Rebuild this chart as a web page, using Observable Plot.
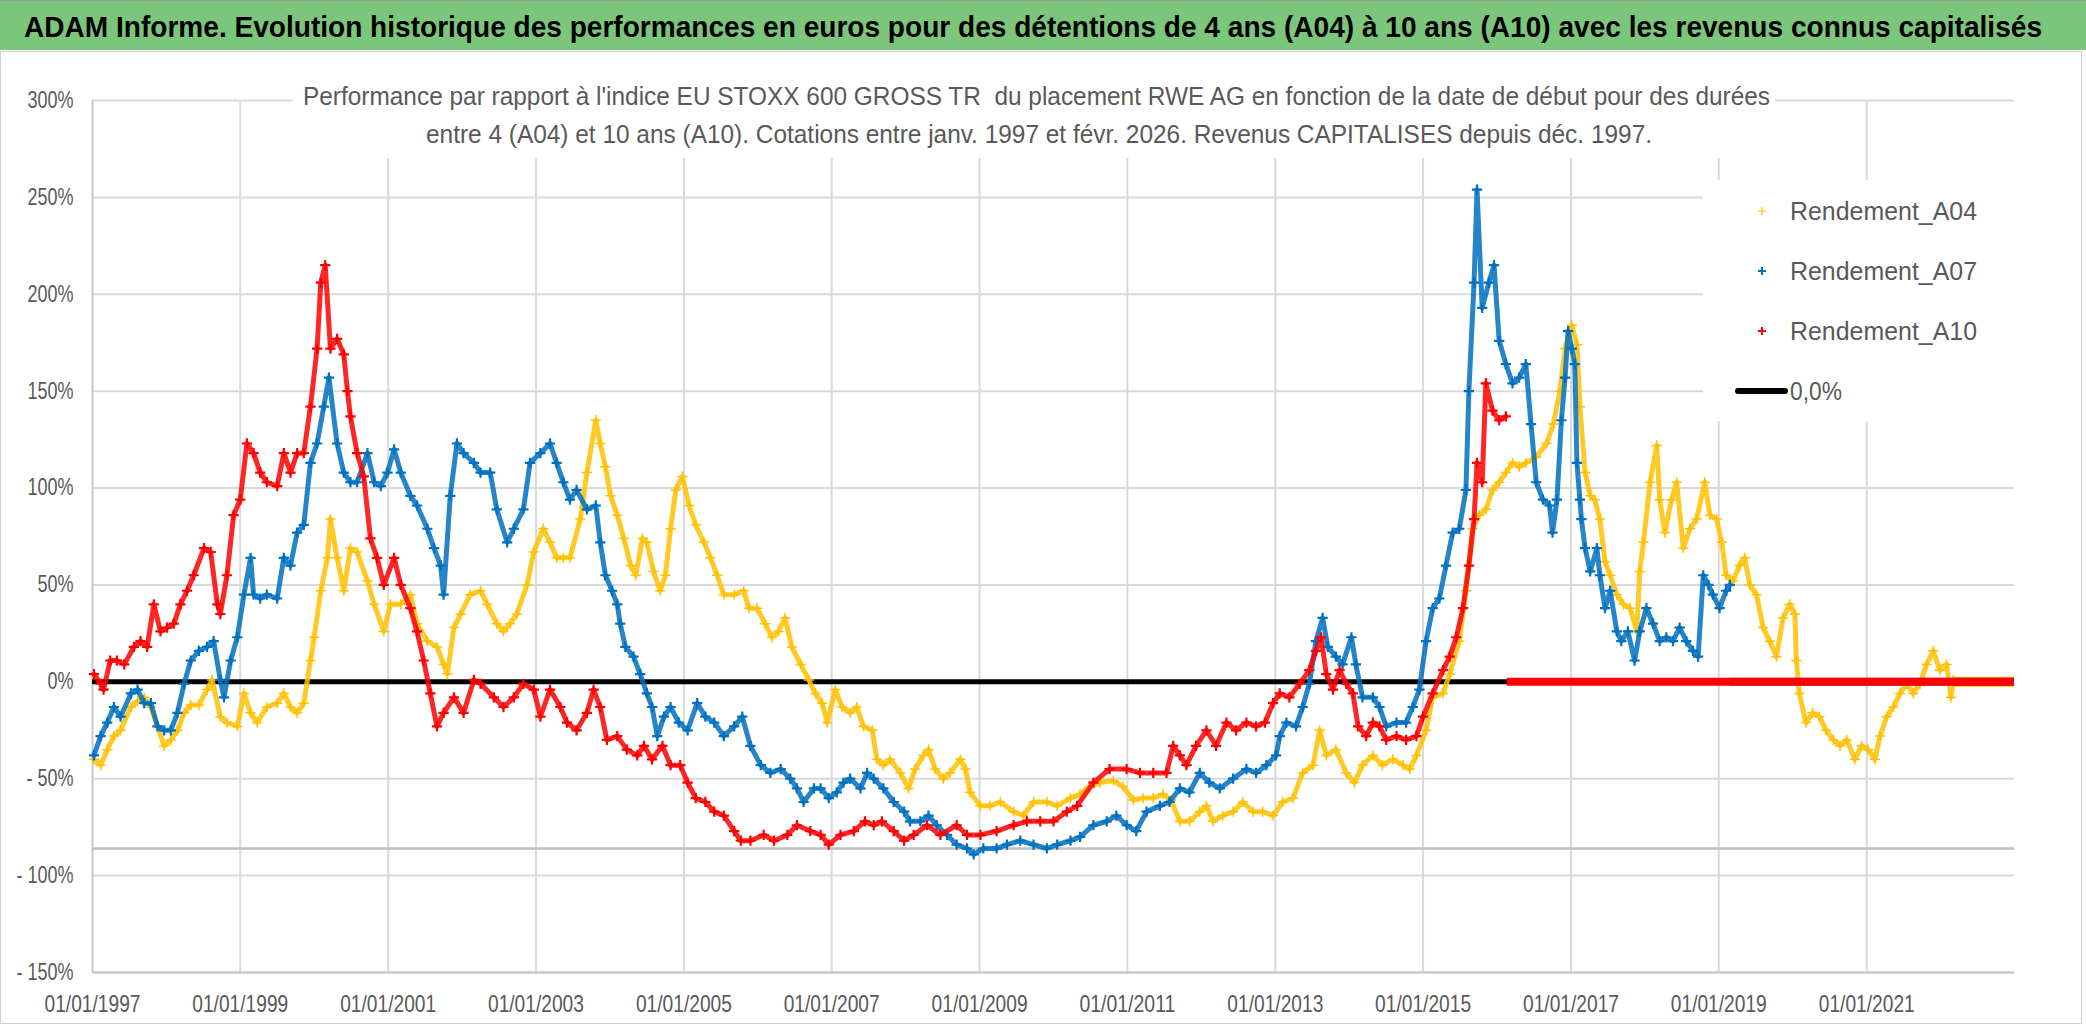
<!DOCTYPE html>
<html><head><meta charset="utf-8">
<script src="https://cdn.jsdelivr.net/npm/d3@7"></script>
<script src="https://cdn.jsdelivr.net/npm/@observablehq/plot@0.6"></script>
<style>
html,body{margin:0;padding:0;background:#fff;}
body{width:2086px;height:1031px;overflow:hidden;position:relative;}
#titlebar{position:absolute;left:0;top:0;width:2086px;height:50px;background:#7cc67c;border-top:1px solid #9a9a9a;box-sizing:border-box;}
#frame{position:absolute;left:0;top:51px;width:2082px;height:973px;border:1.5px solid #d0d0d0;box-sizing:border-box;}
#chart{position:absolute;left:0;top:50px;}
.box{position:absolute;background:#fff;z-index:2;}
</style>
</head><body>
<div id="titlebar"></div>
<div id="frame"></div>
<div id="chart"></div>
<div class="box" style="left:293px;top:62px;width:1482px;height:96px"></div>
<div class="box" style="left:1703px;top:180px;width:312px;height:241px"></div>
<script>
const FONT = '"Liberation Sans Narrow","Liberation Sans",Arial,sans-serif';

// ---- data: [decimal year of start date, performance %] ----
const a04 = [[1997.02,-40],[1997.11,-43],[1997.20,-35],[1997.29,-28],[1997.38,-25],[1997.52,-13],[1997.61,-10],[1997.70,-8],[1997.79,-13],[1997.88,-23],[1997.97,-33],[1998.06,-30],[1998.15,-25],[1998.24,-16],[1998.33,-12],[1998.44,-12],[1998.55,-4],[1998.62,1],[1998.73,-18],[1998.82,-21],[1998.96,-23],[1999.05,-6],[1999.14,-16],[1999.23,-21],[1999.36,-13],[1999.50,-11],[1999.59,-6],[1999.68,-13],[1999.77,-16],[1999.86,-11],[1999.95,11],[2000.00,23],[2000.09,47],[2000.18,64],[2000.22,84],[2000.31,64],[2000.40,47],[2000.49,69],[2000.58,67],[2000.72,52],[2000.81,40],[2000.94,26],[2001.03,40],[2001.17,40],[2001.30,45],[2001.39,30],[2001.53,21],[2001.66,18],[2001.75,9],[2001.80,4],[2001.89,28],[2001.98,35],[2002.11,45],[2002.25,47],[2002.34,40],[2002.47,30],[2002.56,26],[2002.65,30],[2002.74,35],[2002.88,50],[2002.97,67],[2003.10,79],[2003.19,72],[2003.28,64],[2003.37,64],[2003.46,64],[2003.60,84],[2003.69,108],[2003.81,135],[2003.87,123],[2003.94,111],[2004.01,96],[2004.10,86],[2004.19,74],[2004.28,60],[2004.35,55],[2004.44,74],[2004.50,72],[2004.59,57],[2004.68,47],[2004.75,55],[2004.82,79],[2004.89,99],[2004.98,106],[2005.07,91],[2005.16,81],[2005.27,72],[2005.36,64],[2005.45,55],[2005.54,45],[2005.68,45],[2005.81,47],[2005.88,38],[2005.99,38],[2006.10,30],[2006.19,23],[2006.28,26],[2006.37,33],[2006.46,18],[2006.58,9],[2006.69,1],[2006.78,-6],[2006.87,-11],[2006.94,-21],[2007.05,-4],[2007.14,-13],[2007.25,-16],[2007.34,-13],[2007.43,-23],[2007.55,-25],[2007.61,-40],[2007.70,-43],[2007.79,-40],[2007.93,-47],[2008.04,-55],[2008.13,-45],[2008.24,-38],[2008.31,-35],[2008.40,-45],[2008.51,-50],[2008.60,-47],[2008.74,-40],[2008.81,-45],[2008.87,-57],[2009.01,-64],[2009.14,-64],[2009.28,-62],[2009.46,-67],[2009.59,-69],[2009.73,-62],[2009.91,-62],[2010.05,-64],[2010.23,-60],[2010.36,-58],[2010.49,-54],[2010.63,-52],[2010.81,-51],[2010.94,-54],[2011.08,-61],[2011.21,-60],[2011.35,-60],[2011.48,-58],[2011.59,-61],[2011.71,-72],[2011.84,-72],[2011.98,-67],[2012.07,-64],[2012.16,-72],[2012.29,-69],[2012.43,-67],[2012.56,-62],[2012.70,-67],[2012.83,-67],[2012.97,-69],[2013.10,-62],[2013.24,-60],[2013.37,-47],[2013.51,-43],[2013.60,-25],[2013.69,-38],[2013.82,-35],[2013.96,-47],[2014.07,-52],[2014.18,-43],[2014.32,-38],[2014.45,-43],[2014.59,-40],[2014.73,-43],[2014.82,-45],[2014.91,-38],[2015.04,-25],[2015.13,-8],[2015.27,-6],[2015.36,4],[2015.49,21],[2015.58,47],[2015.67,79],[2015.76,86],[2015.85,89],[2015.94,99],[2016.03,103],[2016.12,108],[2016.21,113],[2016.30,111],[2016.39,113],[2016.53,116],[2016.67,123],[2016.76,133],[2016.85,150],[2016.92,172],[2017.01,184],[2017.08,174],[2017.12,142],[2017.19,108],[2017.26,96],[2017.32,94],[2017.39,84],[2017.46,62],[2017.53,55],[2017.62,45],[2017.71,40],[2017.80,38],[2017.89,26],[2017.93,57],[2017.98,72],[2018.07,103],[2018.16,122],[2018.20,94],[2018.27,77],[2018.36,94],[2018.43,103],[2018.52,69],[2018.61,79],[2018.70,84],[2018.81,103],[2018.88,86],[2018.97,84],[2019.04,72],[2019.10,55],[2019.19,52],[2019.28,60],[2019.35,64],[2019.42,50],[2019.51,45],[2019.60,28],[2019.69,21],[2019.78,13],[2019.87,33],[2019.96,40],[2020.03,35],[2020.05,11],[2020.09,-6],[2020.18,-21],[2020.27,-16],[2020.36,-18],[2020.45,-25],[2020.55,-30],[2020.64,-33],[2020.73,-30],[2020.84,-40],[2020.93,-33],[2021.02,-35],[2021.11,-40],[2021.18,-28],[2021.27,-18],[2021.36,-13],[2021.45,-6],[2021.54,-1],[2021.63,-6],[2021.72,-1],[2021.81,9],[2021.90,16],[2021.99,6],[2022.08,9],[2022.14,-8],[2022.17,1]];

const a07 = [[1997.02,-38],[1997.11,-28],[1997.20,-21],[1997.29,-13],[1997.38,-18],[1997.52,-6],[1997.61,-4],[1997.70,-11],[1997.79,-11],[1997.88,-23],[1997.97,-25],[1998.06,-25],[1998.15,-16],[1998.24,-1],[1998.33,11],[1998.44,16],[1998.55,18],[1998.64,21],[1998.73,1],[1998.78,-8],[1998.87,11],[1998.96,23],[1999.05,45],[1999.14,64],[1999.18,45],[1999.27,43],[1999.36,45],[1999.50,43],[1999.59,64],[1999.68,60],[1999.77,77],[1999.86,81],[1999.95,113],[2000.04,123],[2000.13,142],[2000.20,157],[2000.31,123],[2000.40,108],[2000.49,103],[2000.58,103],[2000.72,118],[2000.81,103],[2000.90,101],[2000.99,108],[2001.08,120],[2001.17,108],[2001.30,96],[2001.39,91],[2001.53,79],[2001.62,69],[2001.71,60],[2001.75,45],[2001.84,96],[2001.93,123],[2002.02,118],[2002.16,113],[2002.25,108],[2002.38,108],[2002.47,89],[2002.61,72],[2002.70,79],[2002.83,89],[2002.92,113],[2003.06,118],[2003.19,123],[2003.28,113],[2003.37,103],[2003.46,94],[2003.55,99],[2003.69,89],[2003.81,91],[2003.87,72],[2003.94,55],[2004.03,47],[2004.10,40],[2004.14,30],[2004.21,18],[2004.32,13],[2004.41,4],[2004.50,-6],[2004.57,-13],[2004.64,-28],[2004.73,-18],[2004.82,-13],[2004.93,-21],[2005.05,-25],[2005.18,-11],[2005.29,-18],[2005.41,-21],[2005.54,-28],[2005.68,-23],[2005.79,-18],[2005.90,-33],[2006.04,-43],[2006.17,-47],[2006.31,-45],[2006.44,-50],[2006.53,-55],[2006.62,-62],[2006.76,-55],[2006.85,-55],[2006.96,-60],[2007.07,-57],[2007.16,-52],[2007.25,-50],[2007.39,-55],[2007.48,-47],[2007.57,-50],[2007.70,-55],[2007.84,-62],[2007.98,-67],[2008.06,-72],[2008.20,-72],[2008.31,-69],[2008.42,-74],[2008.56,-79],[2008.69,-84],[2008.83,-86],[2008.92,-89],[2009.05,-86],[2009.23,-86],[2009.37,-84],[2009.55,-82],[2009.73,-84],[2009.91,-86],[2010.05,-84],[2010.23,-82],[2010.36,-80],[2010.54,-74],[2010.72,-72],[2010.85,-69],[2010.99,-74],[2011.12,-77],[2011.26,-67],[2011.44,-64],[2011.57,-62],[2011.71,-55],[2011.84,-57],[2011.98,-47],[2012.11,-52],[2012.25,-55],[2012.43,-50],[2012.61,-45],[2012.74,-47],[2012.88,-43],[2013.01,-38],[2013.06,-28],[2013.15,-21],[2013.28,-23],[2013.37,-13],[2013.46,-1],[2013.55,21],[2013.64,33],[2013.71,18],[2013.82,13],[2013.91,9],[2014.03,23],[2014.09,9],[2014.18,-8],[2014.32,-8],[2014.41,-13],[2014.50,-23],[2014.64,-21],[2014.77,-21],[2014.86,-13],[2014.95,-4],[2015.04,21],[2015.13,38],[2015.22,43],[2015.31,60],[2015.40,77],[2015.49,79],[2015.58,99],[2015.62,150],[2015.69,206],[2015.73,254],[2015.80,193],[2015.89,206],[2015.96,215],[2016.03,176],[2016.12,164],[2016.21,154],[2016.30,157],[2016.39,164],[2016.46,133],[2016.53,103],[2016.62,94],[2016.71,91],[2016.75,77],[2016.81,94],[2016.87,135],[2016.92,157],[2016.96,181],[2017.01,172],[2017.05,164],[2017.08,113],[2017.12,94],[2017.14,84],[2017.19,69],[2017.26,57],[2017.35,69],[2017.39,55],[2017.46,38],[2017.53,47],[2017.62,26],[2017.68,21],[2017.77,26],[2017.86,11],[2017.93,26],[2018.02,38],[2018.11,30],[2018.20,21],[2018.29,23],[2018.38,21],[2018.47,28],[2018.56,21],[2018.65,16],[2018.72,13],[2018.79,55],[2018.86,50],[2018.92,45],[2019.01,38],[2019.10,47],[2019.15,50]];

const a10 = [[1997.02,4],[1997.11,-1],[1997.15,-4],[1997.24,11],[1997.33,11],[1997.43,9],[1997.56,18],[1997.65,21],[1997.74,18],[1997.83,40],[1997.92,26],[1998.01,28],[1998.10,30],[1998.19,40],[1998.28,47],[1998.37,55],[1998.51,69],[1998.60,67],[1998.69,40],[1998.73,35],[1998.82,55],[1998.91,86],[1999.00,94],[1999.09,123],[1999.18,118],[1999.27,108],[1999.36,103],[1999.50,101],[1999.59,118],[1999.68,108],[1999.77,118],[1999.86,118],[1999.95,142],[2000.04,172],[2000.09,206],[2000.15,215],[2000.22,172],[2000.31,177],[2000.40,169],[2000.45,150],[2000.49,137],[2000.58,118],[2000.67,106],[2000.76,74],[2000.85,64],[2000.94,50],[2001.08,64],[2001.17,50],[2001.30,38],[2001.39,26],[2001.48,11],[2001.57,-6],[2001.66,-23],[2001.75,-16],[2001.89,-8],[2002.02,-16],[2002.16,1],[2002.25,-1],[2002.43,-8],[2002.56,-13],[2002.70,-8],[2002.83,-1],[2002.97,-4],[2003.06,-18],[2003.19,-4],[2003.33,-13],[2003.42,-21],[2003.55,-25],[2003.69,-16],[2003.78,-4],[2003.87,-13],[2003.96,-30],[2004.10,-28],[2004.23,-35],[2004.37,-38],[2004.46,-33],[2004.57,-40],[2004.71,-33],[2004.82,-43],[2004.95,-43],[2005.05,-52],[2005.16,-60],[2005.29,-62],[2005.41,-67],[2005.54,-69],[2005.68,-77],[2005.77,-82],[2005.90,-82],[2006.08,-79],[2006.22,-82],[2006.40,-79],[2006.53,-74],[2006.71,-77],[2006.85,-79],[2006.96,-84],[2007.12,-79],[2007.30,-77],[2007.45,-72],[2007.57,-74],[2007.68,-72],[2007.84,-77],[2007.98,-82],[2008.11,-79],[2008.29,-74],[2008.47,-79],[2008.69,-74],[2008.83,-79],[2009.01,-79],[2009.23,-77],[2009.46,-74],[2009.64,-72],[2009.82,-72],[2010.00,-72],[2010.18,-67],[2010.32,-64],[2010.54,-52],[2010.76,-45],[2010.99,-45],[2011.17,-47],[2011.35,-47],[2011.53,-47],[2011.62,-33],[2011.71,-38],[2011.80,-43],[2011.93,-33],[2012.07,-25],[2012.20,-33],[2012.34,-21],[2012.47,-25],[2012.61,-21],[2012.74,-23],[2012.86,-21],[2012.97,-11],[2013.06,-6],[2013.19,-8],[2013.33,-1],[2013.46,6],[2013.55,16],[2013.62,23],[2013.69,4],[2013.78,-4],[2013.87,6],[2013.96,-1],[2014.05,-6],[2014.12,-23],[2014.23,-28],[2014.32,-21],[2014.41,-23],[2014.50,-30],[2014.64,-28],[2014.77,-30],[2014.91,-28],[2015.00,-18],[2015.13,-6],[2015.27,6],[2015.36,13],[2015.45,23],[2015.54,38],[2015.62,60],[2015.69,84],[2015.73,113],[2015.80,103],[2015.85,154],[2015.94,140],[2016.03,135],[2016.12,137]];

// start dates with no completed period yet: plotted at 0 %
const zeroRuns = [
  {series: "Rendement_A04", from: 2022.17, to: 2023.0, width: 10},
  {series: "Rendement_A07", from: 2019.15, to: 2023.0, width: 8},
  {series: "Rendement_A10", from: 2016.14, to: 2023.0, width: 8}
];

const seriesNames = ["Rendement_A04", "Rendement_A07", "Rendement_A10"];
const seriesColors = ["#FFC000", "#0070C0", "#FF0000"];
const yTicks = [-150, -100, -50, 0, 50, 100, 150, 200, 250, 300];
const xTickYears = [1997, 1999, 2001, 2003, 2005, 2007, 2009, 2011, 2013, 2015, 2017, 2019, 2021];
const xDomainYears = [1997, 2023];
const axisCrossValue = -86;
const zeroLineLabel = "0,0%";

const titleText = "ADAM Informe. Evolution historique des performances en euros pour des détentions de 4 ans (A04) à 10 ans (A10) avec les revenus connus capitalisés";
const subtitle1 = "Performance par rapport à l'indice EU STOXX 600 GROSS TR  du placement RWE AG en fonction de la date de début pour des durées";
const subtitle2 = "entre 4 (A04) et 10 ans (A10). Cotations entre janv. 1997 et févr. 2026. Revenus CAPITALISES depuis déc. 1997.";

function toDate(y) {
  const yr = Math.floor(y);
  const s = Date.UTC(yr, 0, 1), e = Date.UTC(yr + 1, 0, 1);
  return new Date(s + (y - yr) * (e - s));
}
const colorOf = name => seriesColors[seriesNames.indexOf(name)];
const rows = (arr, name) => arr.map(([t, v]) => ({date: toDate(t), value: v, series: name}));
const d04 = rows(a04, seriesNames[0]), d07 = rows(a07, seriesNames[1]), d10 = rows(a10, seriesNames[2]);
const zr = zeroRuns.map(r => ({series: r.series, x1: toDate(r.from), x2: toDate(r.to), w: r.width}));
const xTickDates = xTickYears.map(y => toDate(y));
const yFmt = v => v < 0 ? "- " + Math.abs(v) + "%" : v + "%";

function seriesMarks(data, name, sw) {
  const c = colorOf(name);
  return [
    Plot.line(data, {x: "date", y: "value", stroke: c, strokeWidth: 5, strokeOpacity: 0.85, strokeLinejoin: "round"}),
    Plot.dot(data, {x: "date", y: "value", symbol: "plus", r: 3.4, stroke: c, strokeWidth: sw})
  ];
}
const zeroMark = s => Plot.ruleY(zr.filter(d => d.series === s), {y: () => 0, x1: "x1", x2: "x2", stroke: colorOf(s), strokeWidth: d => d.w});

const chart = Plot.plot({
  width: 2086, height: 975,
  marginLeft: 92, marginRight: 72, marginTop: 50, marginBottom: 53,
  style: {fontFamily: FONT, fontSize: "24px", color: "#595959", background: "transparent", overflow: "visible"},
  x: {type: "utc", domain: xDomainYears.map(toDate)},
  y: {domain: [yTicks[0], yTicks[yTicks.length - 1]]},
  marks: [
    Plot.ruleY(yTicks.slice(1), {stroke: "#d9d9d9", strokeWidth: 2}),
    Plot.ruleX(xTickDates.slice(1), {stroke: "#d9d9d9", strokeWidth: 2}),
    Plot.ruleX(xTickDates.slice(0, 1), {stroke: "#c8c8c8", strokeWidth: 2}),
    Plot.ruleY([yTicks[0]], {stroke: "#c8c8c8", strokeWidth: 2.5}),
    Plot.ruleY([axisCrossValue], {stroke: "#bfbfbf", strokeWidth: 2.5}),
    Plot.ruleY([0], {stroke: "#000", strokeWidth: 5}),
    ...seriesMarks(d04, seriesNames[0], 1.5),
    zeroMark(seriesNames[0]),
    ...seriesMarks(d07, seriesNames[1], 2.2),
    zeroMark(seriesNames[1]),
    ...seriesMarks(d10, seriesNames[2], 2.2),
    zeroMark(seriesNames[2]),
    Plot.axisX({ticks: xTickDates, tickFormat: d3.utcFormat("%d/%m/%Y"), tickSize: 0, tickPadding: 22, fontSize: 24, label: null}),
    Plot.axisY({ticks: yTicks, tickFormat: yFmt, tickSize: 0, tickPadding: 19, fontSize: 23, label: null})
  ]
});
document.getElementById("chart").appendChild(chart);

// narrow the tick labels to the condensed look of the original
chart.querySelectorAll('[aria-label="x-axis tick label"] text').forEach(t => {
  t.setAttribute("textLength", 96); t.setAttribute("lengthAdjust", "spacingAndGlyphs");
});
{
  const ys = [...chart.querySelectorAll('[aria-label="y-axis tick label"] text')];
  const ref = ys.find(t => t.textContent === "300%");
  const k = ref ? 46 / ref.getComputedTextLength() : 1;
  ys.forEach(t => {
    t.setAttribute("textLength", (t.getComputedTextLength() * k).toFixed(1));
    t.setAttribute("lengthAdjust", "spacingAndGlyphs");
  });
}

function addText(str, {left, baseline, size, weight = 400, color = "#595959", width}) {
  const s = document.createElement("span");
  s.textContent = str;
  Object.assign(s.style, {position: "absolute", left: left + "px", top: (baseline - 0.8465 * size) + "px",
    fontSize: size + "px", lineHeight: size + "px", fontWeight: weight, color, whiteSpace: "pre",
    fontFamily: FONT, transformOrigin: "0 0", zIndex: 3});
  document.body.appendChild(s);
  if (width) {
    const w = s.getBoundingClientRect().width;
    s.style.transform = `scaleX(${width / w})`;
  }
  return s;
}

addText(titleText, {left: 24, baseline: 38, size: 29, weight: 700, color: "#000", width: 2018});
addText(subtitle1, {left: 303, baseline: 105, size: 26, width: 1467});
addText(subtitle2, {left: 426, baseline: 143, size: 26, width: 1226});
seriesNames.forEach((n, i) => addText(n, {left: 1790, baseline: 220 + 60 * i, size: 26, width: 187}));
addText(zeroLineLabel, {left: 1790, baseline: 400, size: 26, width: 52});

// legend symbols
const ns = "http://www.w3.org/2000/svg";
const lg = document.createElementNS(ns, "svg");
lg.setAttribute("width", 80); lg.setAttribute("height", 240);
Object.assign(lg.style, {position: "absolute", left: "1720px", top: "180px", zIndex: 3});
seriesNames.forEach((n, i) => {
  const cy = 31 + 60 * i, cx = 42, r = 4;
  const p = document.createElementNS(ns, "path");
  p.setAttribute("d", `M${cx - r},${cy}H${cx + r}M${cx},${cy - r}V${cy + r}`);
  p.setAttribute("stroke", seriesColors[i]);
  p.setAttribute("stroke-width", i === 0 ? 1.2 : 2);
  lg.appendChild(p);
});
const ln = document.createElementNS(ns, "line");
ln.setAttribute("x1", 18); ln.setAttribute("x2", 65); ln.setAttribute("y1", 211); ln.setAttribute("y2", 211);
ln.setAttribute("stroke", "#000"); ln.setAttribute("stroke-width", 6); ln.setAttribute("stroke-linecap", "round");
lg.appendChild(ln);
document.body.appendChild(lg);
</script>
</body></html>
